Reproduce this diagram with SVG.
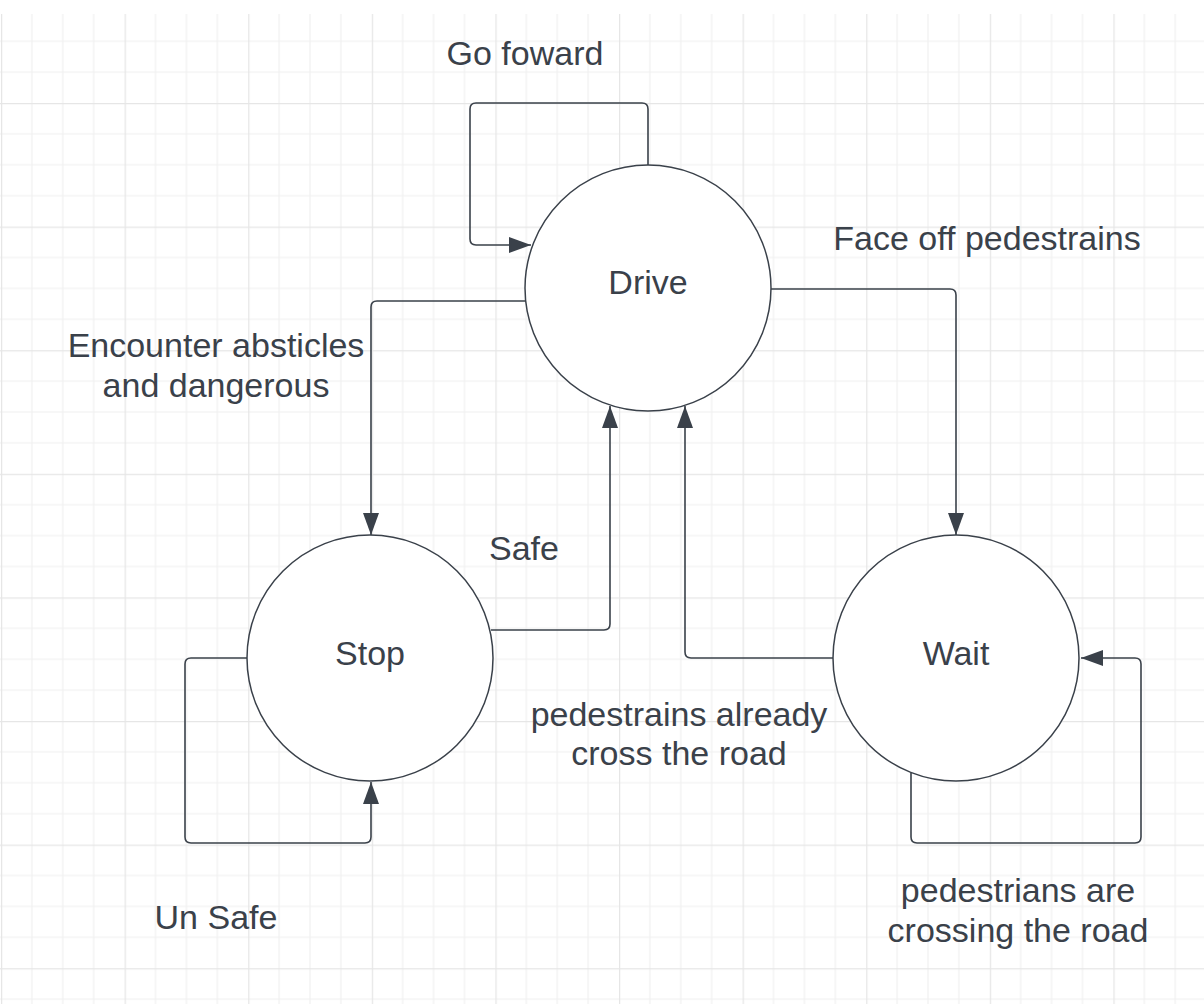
<svg xmlns="http://www.w3.org/2000/svg" width="1204" height="1004" viewBox="0 0 1204 1004">
<defs>
<pattern id="grid" patternUnits="userSpaceOnUse" x="1" y="-20.6" width="123.6" height="123.6">
<path d="M30.9 0V123.6M61.8 0V123.6M92.7 0V123.6M0 30.9H123.6M0 61.8H123.6M0 92.7H123.6" stroke="#f0f0f0" stroke-width="1.2" fill="none"/>
<path d="M0.5 0V123.6M0 0.5H123.6" stroke="#e6e6e6" stroke-width="1.5" fill="none"/>
</pattern>
<marker id="arr" markerUnits="userSpaceOnUse" markerWidth="24" markerHeight="18" refX="22" refY="8" orient="auto" viewBox="0 0 24 18">
<path d="M0 0L22 8L0 16Z" fill="#3a414a"/>
</marker>
</defs>
<style>
.node circle{fill:#ffffff;stroke:#3a414a;stroke-width:1.5}
.lbl{font-family:"Liberation Sans",Arial,sans-serif;font-size:34px;fill:#3a414a;text-anchor:middle}
#connectors path{fill:none;stroke:#3a414a;stroke-width:1.6;stroke-linejoin:round}
</style>
<rect width="1204" height="1004" fill="#ffffff"/>
<rect x="0" y="14" width="1204" height="990" fill="url(#grid)"/>
<g id="connectors">
<path id="e-goforward" d="M648 165V109Q648 103 642 103H476Q470 103 470 109V239Q470 245 476 245H531" marker-end="url(#arr)"/>
<path id="e-drive-wait" d="M771 289H950Q956 289 956 295V535" marker-end="url(#arr)"/>
<path id="e-drive-stop" d="M526 301H377Q371 301 371 307V535" marker-end="url(#arr)"/>
<path id="e-stop-drive" d="M491 630H604Q610 630 610 624V406" marker-end="url(#arr)"/>
<path id="e-wait-drive" d="M833 658H691Q685 658 685 652V406" marker-end="url(#arr)"/>
<path id="e-stop-loop" d="M247 658H191Q185 658 185 664V837Q185 843 191 843H365Q371 843 371 837V782" marker-end="url(#arr)"/>
<path id="e-wait-loop" d="M911 773V837Q911 843 917 843H1135Q1141 843 1141 837V664Q1141 658 1135 658H1081" marker-end="url(#arr)"/>
</g>
<g id="labels">
<text class="lbl" x="525" y="65">Go foward</text>
<text class="lbl" x="987" y="250">Face off pedestrains</text>
<text class="lbl" x="216" y="357">Encounter absticles</text>
<text class="lbl" x="216" y="397">and dangerous</text>
<text class="lbl" x="524" y="560">Safe</text>
<text class="lbl" x="679" y="726">pedestrains already</text>
<text class="lbl" x="679" y="765">cross the road</text>
<text class="lbl" x="1018" y="902">pedestrians are</text>
<text class="lbl" x="1018" y="942">crossing the road</text>
<text class="lbl" x="216" y="929">Un Safe</text>
</g>
<g id="node-drive" class="node">
<circle cx="648" cy="288" r="123"/>
<text class="lbl" x="648" y="294">Drive</text>
</g>
<g id="node-stop" class="node">
<circle cx="370" cy="658" r="123"/>
<text class="lbl" x="370" y="665">Stop</text>
</g>
<g id="node-wait" class="node">
<circle cx="956" cy="658" r="123"/>
<text class="lbl" x="956" y="665">Wait</text>
</g>
</svg>
